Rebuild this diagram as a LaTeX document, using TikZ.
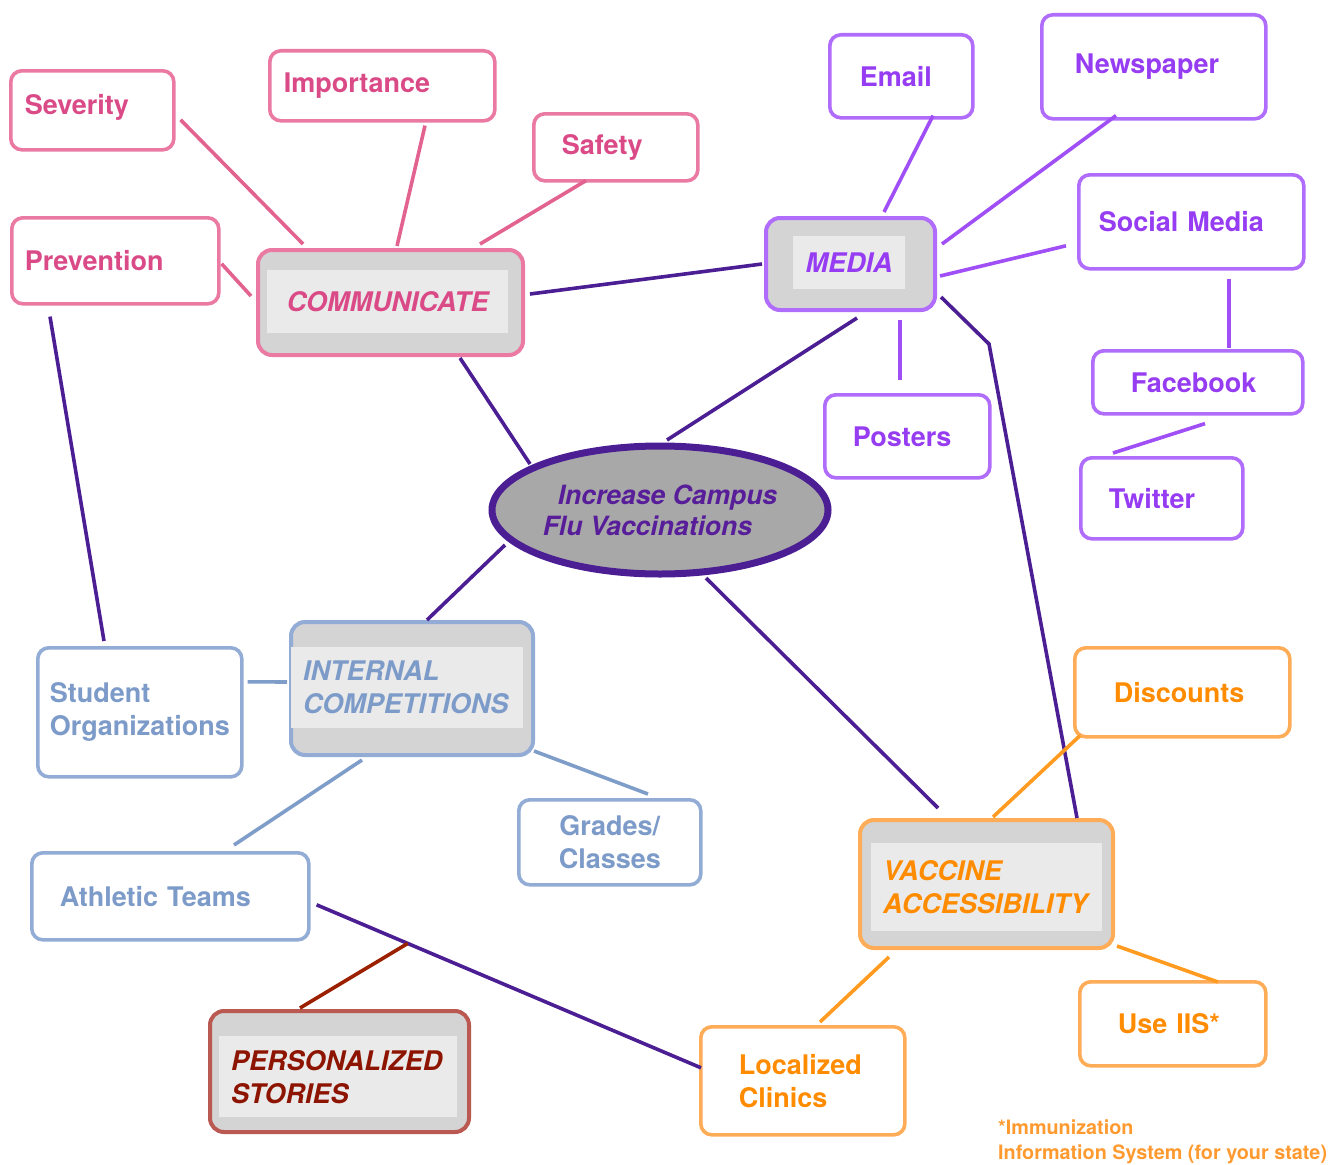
\documentclass[tikz,border=0pt]{standalone}
\usepackage{fontspec}
\setmainfont{TeX Gyre Heros}
\usetikzlibrary{shapes.geometric}
\definecolor{pinkB}{RGB}{234,122,162}
\definecolor{pinkT}{RGB}{218,74,135}
\definecolor{pinkL}{RGB}{226,98,144}
\definecolor{purB}{RGB}{176,108,250}
\definecolor{purT}{RGB}{150,60,242}
\definecolor{purL}{RGB}{160,78,245}
\definecolor{darkP}{RGB}{76,30,148}
\definecolor{goalT}{RGB}{88,30,154}
\definecolor{bluB}{RGB}{146,172,214}
\definecolor{bluT}{RGB}{125,155,201}
\definecolor{bluL}{RGB}{127,157,201}
\definecolor{orB}{RGB}{255,172,88}
\definecolor{orT}{RGB}{255,140,0}
\definecolor{orL}{RGB}{255,155,32}
\definecolor{redB}{RGB}{186,88,82}
\definecolor{redT}{RGB}{140,20,0}
\definecolor{redL}{RGB}{154,32,0}
\definecolor{boxgray}{RGB}{212,212,212}
\definecolor{innergray}{RGB}{234,234,234}
\definecolor{ellgray}{RGB}{168,168,168}
\definecolor{noteT}{RGB}{255,154,48}
\newcommand\bx[8]{%
  \pgfmathsetmacro\bxw{#5-#3}%
  \pgfmathsetmacro\bxh{#6-#4}%
  \pgfmathsetmacro\bxt{#5-#3-2*#7}%
  \node[#1, anchor=north west, minimum width=\bxw pt, minimum height=\bxh pt,
        inner xsep=#7pt, text width=\bxt pt] (#2) at (#3,#4) {#8};}
\begin{document}
\begin{tikzpicture}[x=1pt,y=-1pt,
  smallbox/.style={draw, line width=3.6pt, rounded corners=11pt, fill=white,
     inner ysep=0pt, font=\bfseries\fontsize{27}{33}\selectfont, align=left},
  pinkbox/.style={smallbox, draw=pinkB, text=pinkT},
  purbox/.style={smallbox, draw=purB, text=purT},
  blubox/.style={smallbox, draw=bluB, text=bluT},
  orbox/.style={smallbox, draw=orB, text=orT},
  mainbox/.style={draw, line width=4pt, rounded corners=14pt, fill=boxgray, inner ysep=0pt},
  innerbox/.style={fill=innergray, inner ysep=0pt,
     font=\bfseries\itshape\fontsize{27}{33}\selectfont, align=left},
  conn/.style={line width=3.6pt},
  pinkline/.style={conn, draw=pinkL},
  purline/.style={conn, draw=purL},
  darkline/.style={conn, draw=darkP},
  bluline/.style={conn, draw=bluL},
  orline/.style={conn, draw=orL},
  redline/.style={conn, draw=redL},
]
\useasboundingbox (0,0) rectangle (1332,1164);

% ---- small boxes
\bx{pinkbox}{sev}{9}{69}{172}{148}{14}{Severity\vphantom{g}\rule[-12pt]{0pt}{1pt}}
\bx{pinkbox}{imp}{268}{49}{493}{119}{14}{Importance}
\bx{pinkbox}{saf}{532}{112}{696}{179}{28}{Safety}
\bx{pinkbox}{prev}{10}{216}{217}{302}{13}{Prevention}
\bx{purbox}{email}{828}{33}{971}{116}{30}{Email}
\bx{purbox}{news}{1040}{13}{1264}{117}{33}{Newspaper}
\bx{purbox}{social}{1077}{173}{1302}{267}{20}{Social Media}
\bx{purbox}{fb}{1091}{349}{1301}{412}{38}{Facebook}
\bx{purbox}{post}{823}{393}{988}{476}{28}{Posters}
\bx{purbox}{tw}{1079}{456}{1241}{537}{28}{Twitter}
\bx{blubox}{stud}{36}{646}{240}{775}{12}{Student\\Organizations}
\bx{blubox,align=center}{grad}{517}{798}{699}{883}{10}{Grades/\\Classes}
\bx{blubox}{ath}{30}{851}{307}{938}{28}{Athletic Teams}
\bx{orbox}{disc}{1073}{646}{1288}{735}{39}{Discounts}
\bx{orbox}{iis}{1078}{980}{1264}{1064}{38}{Use IIS*}
\bx{orbox}{loc}{699}{1025}{903}{1133}{38}{Localized\\Clinics}

% ---- main boxes
\bx{mainbox,draw=pinkB}{comm}{256}{248}{521}{353}{0}{}
\bx{innerbox,align=center,text=pinkT}{commtxt}{267}{270}{508}{333}{10}{COMMUNICATE}
\bx{mainbox,draw=purB}{media}{764}{216}{933}{308}{0}{}
\bx{innerbox,align=center,text=purT}{mediatxt}{793}{236}{905}{289}{5}{MEDIA}
\bx{mainbox,draw=bluB}{internal}{289}{620}{531}{753}{0}{}
\bx{innerbox,text=bluT}{internaltxt}{291}{647}{523}{728}{12}{INTERNAL\\COMPETITIONS}
\bx{mainbox,draw=orB}{vacc}{858}{818}{1111}{946}{0}{}
\bx{innerbox,text=orT}{vacctxt}{871}{843}{1102}{931}{12}{VACCINE\\ACCESSIBILITY}
\bx{mainbox,draw=redB}{pers}{208}{1009}{467}{1130}{0}{}
\bx{innerbox,text=redT}{perstxt}{219}{1036}{457}{1117}{12}{PERSONALIZED\\STORIES}

% ---- central ellipse
\node[ellipse, draw=darkP, line width=7pt, fill=ellgray, minimum width=336pt,
      minimum height=128pt, inner sep=0pt, align=left, text=goalT,
      font=\bfseries\itshape\fontsize{26.5}{31}\selectfont] (goal) at (660,510)
      {\hspace*{15pt}Increase Campus\\Flu Vaccinations};

% ---- connectors
\draw[pinkline] ([shift={(5,9.5)}]sev.east) -- ([shift={(47,-4)}]comm.north west);
\draw[pinkline] ([shift={(157,3)}]imp.south west) -- ([shift={(141,-2)}]comm.north west);
\draw[pinkline] ([shift={(54,-2)}]saf.south west) -- ([shift={(224,-4)}]comm.north west);
\draw[pinkline] ([shift={(1,3)}]prev.east) -- ([shift={(-5,-6.5)}]comm.west);
\draw[darkline] ([shift={(5,-8.5)}]comm.east) -- ([shift={(-2,0)}]media.west);
\draw[darkline] ([shift={(204,1)}]comm.south west) -- ([shift={(-130,-46)}]goal.center);
\draw[purline] ([shift={(120,-4)}]media.north west) -- ([shift={(105,-4)}]email.south west);
\draw[purline] ([shift={(5,28)}]media.north east) -- ([shift={(76,-5)}]news.south west);
\draw[purline] ([shift={(3,12)}]media.east) -- ([shift={(-11,24)}]social.west);
\draw[purline] ([shift={(136,8)}]media.south west) -- ([shift={(77,-13)}]post.north west);
\draw[darkline] ([shift={(93,6)}]media.south west) -- ([shift={(7,-70)}]goal.center);
\draw[darkline] ([shift={(4,-15)}]media.south east) -- ++(48,47) -- ([shift={(-38,0)}]vacc.north east);
\draw[purline] ([shift={(152,8)}]social.south west) -- ([shift={(138,-1)}]fb.north west);
\draw[purline] ([shift={(114,8)}]fb.south west) -- ([shift={(34,-3)}]tw.north west);
\draw[darkline] ([shift={(-155,35)}]goal.center) -- ([shift={(138,0)}]internal.north west);
\draw[darkline] ([shift={(46,68)}]goal.center) -- ([shift={(80,-10)}]vacc.north west);
\draw[darkline] ([shift={(40,11)}]prev.south west) -- ([shift={(68,-5)}]stud.north west);
\draw[bluline] ([shift={(4,-30.5)}]stud.east) -- ([shift={(-2,-6.5)}]internal.west);
\draw[bluline] ([shift={(-1,-6)}]internal.south east) -- ([shift={(131,-4)}]grad.north west);
\draw[bluline] ([shift={(73,3)}]internal.south west) -- ([shift={(204,-6)}]ath.north west);
\draw[darkline] ([shift={(6,8.5)}]ath.east) -- coordinate[pos=0.237] (pm) ([shift={(2,-13)}]loc.west);
\draw[redline] (pm) -- ([shift={(92,-1)}]pers.north west);
\draw[orline] ([shift={(135,-1)}]vacc.north west) -- ([shift={(7,-3)}]disc.south west);
\draw[orline] ([shift={(31,7)}]vacc.south west) -- ([shift={(121,-3)}]loc.north west);
\draw[orline] ([shift={(2,-4)}]vacc.south east) -- ([shift={(140,2)}]iis.north west);

% ---- footnote
\node[anchor=west, inner sep=0pt, align=left, text=noteT,
      font=\bfseries\fontsize{19.8}{25}\selectfont] (note) at (998,1142)
  {*Immunization\\Information System (for your state)};
\end{tikzpicture}
\end{document}
